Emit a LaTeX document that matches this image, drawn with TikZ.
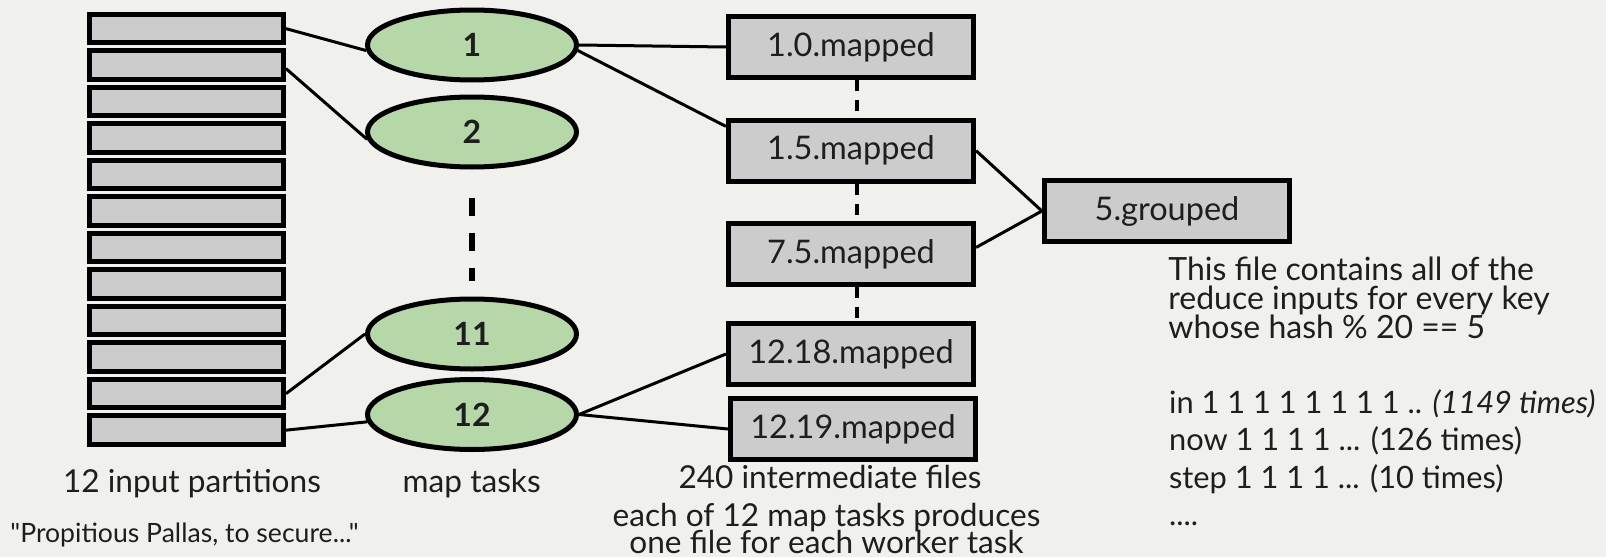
\documentclass[tikz,border=0pt]{standalone}
\usepackage{fontspec}
\setmainfont{Lato}
\newfontfamily\plainlato{Lato}
\usetikzlibrary{shapes.geometric, positioning}
\definecolor{bgcol}{RGB}{240,241,236}
\definecolor{partgray}{RGB}{204,204,204}
\definecolor{taskgreen}{RGB}{182,215,168}
\definecolor{inkcol}{RGB}{30,30,30}

\begin{document}
\begin{tikzpicture}[
  x=0.5pt, y=-0.5pt,
  partition/.style={rectangle, draw, line width=2.5pt, fill=partgray, minimum width=97pt, minimum height=14.2pt, inner sep=0pt},
  task/.style={ellipse, draw, line width=2.5pt, fill=taskgreen, minimum width=104.5pt, minimum height=35pt, inner sep=0pt, font=\fontsize{16}{18}\selectfont\bfseries, text=inkcol},
  mapped/.style={rectangle, draw, line width=2.6pt, fill=partgray, minimum width=122.5pt, minimum height=30.5pt, inner sep=0pt, font=\fontsize{16.25}{19}\selectfont, text=inkcol},
  caption/.style={inner sep=0pt, font=\fontsize{15.8}{18}\selectfont, text=inkcol},
  quotetext/.style={inner sep=0pt, font=\plainlato\fontsize{13.3}{15}\selectfont, text=inkcol},
  note/.style={inner sep=0pt, font=\fontsize{16}{17}\selectfont, text=inkcol},
  countline/.style={inner sep=0pt, font=\fontsize{15.4}{17}\selectfont, text=inkcol},
  link/.style={line width=1.5pt},
  taskgap/.style={line width=3.2pt, dash pattern=on 9pt off 8.5pt},
  filegap/.style={line width=1.6pt, dash pattern=on 5.5pt off 4.5pt}
]
  % Background and page size
  \fill[bgcol] (0,0) rectangle (1606,557);
  \useasboundingbox (0,0) rectangle (1606,557);

  % Input partitions
  \foreach \i in {1,...,12}
    \node[partition] (p\i) at (186.5, {28.65+36.5*(\i-1)}) {};

  % Map tasks
  \node[task] (t1) at (472,45) {1};
  \node[task] (t2) at (472,132) {2};
  \node[task] (t11) at (472,334) {11};
  \node[task] (t12) at (472,414.5) {12};
  \draw[taskgap] ([yshift=-14pt]t2.south) -- ([yshift=8pt]t11.north);

  % Intermediate files
  \node[mapped] (m10) at (851,47) {1.0.mapped};
  \node[mapped] (m15) at (851,150.7) {1.5.mapped};
  \node[mapped] (m75) at (851,254) {7.5.mapped};
  \node[mapped] (m1218) at (851,354) {12.18.mapped};
  \node[mapped] (m1219) at (853,429) {12.19.mapped};
  \draw[filegap] ([xshift=3pt]m10.south) -- ([xshift=3pt]m15.north);
  \draw[filegap] ([xshift=3pt]m15.south) -- ([xshift=3pt]m75.north);
  \draw[filegap] ([xshift=3pt]m75.south) -- ([xshift=3pt]m1218.north);

  % Grouped file
  \node[mapped] (g5) at (1167,211) {5.grouped};

  % Connections
  \draw[link] (p1.east) -- (t1.183);
  \draw[link] (p2.-2) -- (t2.184);
  \draw[link] (p11.east) -- (t11.west);
  \draw[link] (p12.east) -- (t12.184);
  \draw[link] (t1.east) -- (m10.west);
  \draw[link] (t1.-3) -- (m15.169);
  \draw[link] (t12.east) -- (m1218.west);
  \draw[link] (t12.east) -- (m1219.west);
  \draw[link] (m15.east) -- (g5.west);
  \draw[link] (m75.3) -- (g5.west);

  % Captions
  \node[caption, anchor=base] (inparts) at (192,492.7) {12 input partitions};
  \node[caption, anchor=base] (maptasks) at (471.7,492.7) {map tasks};
  \node[quotetext, anchor=base west] (quote) at (10,542.7) {"Propitious Pallas, to secure..."};
  \node[caption, anchor=base] (interfiles) at (830,488.3) {240 intermediate files};
  \node[caption, anchor=base] (each1) at (826.5,526) {each of 12 map tasks produces};
  \node[caption, anchor=base] (each2) at (826.5,553) {one file for each worker task};

  % Notes on the grouped file
  \node[note, anchor=base west] (n1) at (1168,280.7) {This file contains all of the};
  \node[note, anchor=base west] (n2) at (1168,309.3) {reduce inputs for every key};
  \node[note, anchor=base west] (n3) at (1168,338.3) {whose hash \% 20 == 5};
  \node[countline, anchor=base west] (c1) at (1168.7,413.3) {in 1 1 1 1 1 1 1 1 .. \textit{(1149 times)}};
  \node[countline, anchor=base west] (c2) at (1168.7,450.7) {now 1 1 1 1 ... (126 times)};
  \node[countline, anchor=base west] (c3) at (1168.7,488.3) {step 1 1 1 1 ... (10 times)};
  \node[countline, anchor=base west] (c4) at (1168.7,525.7) {....};
\end{tikzpicture}
\end{document}
